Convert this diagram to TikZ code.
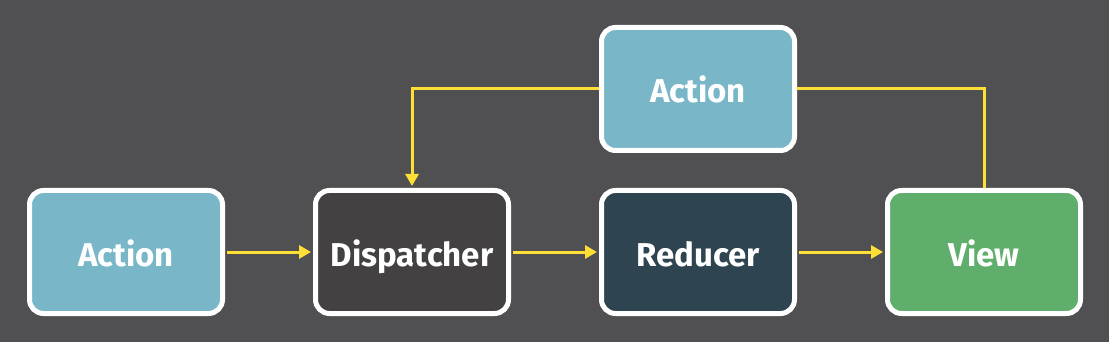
\documentclass[tikz,border=0pt]{standalone}
\usepackage{fontspec}
\setmainfont{Fira Sans}
\usetikzlibrary{arrows.meta,positioning}
\definecolor{bg}{HTML}{505052}
\definecolor{actionfill}{HTML}{78B6C8}
\definecolor{dispfill}{HTML}{434142}
\definecolor{redfill}{HTML}{2E4451}
\definecolor{viewfill}{HTML}{5FAE6B}
\definecolor{flow}{HTML}{FFDE35}
\tikzset{
  box/.style={draw=white, line width=5pt, rounded corners=14pt, minimum width=193pt, minimum height=123pt, align=center, text=white, text height=28pt, text depth=0pt, font=\bfseries\fontsize{33}{36}\selectfont},
  actionbox/.style={box, fill=actionfill},
  dispbox/.style={box, fill=dispfill},
  reducerbox/.style={box, fill=redfill},
  viewbox/.style={box, fill=viewfill},
  flowline/.style={draw=flow, line width=3pt},
  flowarrow/.style={flowline, -{Triangle[length=12pt,width=13pt]}, shorten >=2pt}
}
\begin{document}
\begin{tikzpicture}[x=1pt, y=-1pt, node distance=35pt and 88pt]
\fill[bg] (0,0) rectangle (1109,342);
\useasboundingbox (0,0) rectangle (1109,342);
\node[actionbox] (act) at (126,252) {Action};
\node[dispbox, right=of act] (disp) {Dispatcher};
\node[reducerbox, right=of disp] (red) {Reducer};
\node[viewbox, right=of red] (view) {View};
\node[actionbox, above=of red] (act2) {Action};
\draw[flowarrow, shorten <=2pt] (act)--(disp);
\draw[flowarrow, shorten <=2pt] (disp)--(red);
\draw[flowarrow, shorten <=2pt] (red)--(view);
\draw[flowarrow] (act2.west) -| (disp.north);
\draw[flowline] (act2.east) -| (view.north);
\end{tikzpicture}
\end{document}
